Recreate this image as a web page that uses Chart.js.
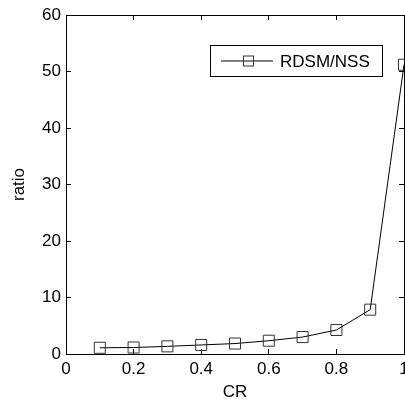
<!DOCTYPE html>
<html><head><meta charset="utf-8">
<script src="https://cdn.jsdelivr.net/npm/chart.js@4"></script>
<style>html,body{margin:0;padding:0;background:#fff}canvas{display:block}</style>
</head><body>
<canvas id="c" width="405" height="401"></canvas>
<script>
const crValues = [0.1, 0.2, 0.3, 0.4, 0.5, 0.6, 0.7, 0.8, 0.9, 1.0];
const ratioValues = [1.1, 1.15, 1.35, 1.6, 1.85, 2.35, 3.0, 4.25, 7.85, 51.2];
const seriesLabel = 'RDSM/NSS';
const xTitle = 'CR';
const yTitle = 'ratio';

const FONT = {family: 'Liberation Sans, Arial, sans-serif', size: 17};
const fmt = v => String(+Number(v).toFixed(2));

const legendPlugin = {
  id: 'boxLegend',
  afterDatasetsDraw(chart) {
    const ctx = chart.ctx, a = chart.chartArea;
    const ds = chart.data.datasets[0];
    const x0 = a.left + 144, y0 = a.top + 30, w = 172, h = 31;
    ctx.save();
    ctx.fillStyle = '#fff';
    ctx.fillRect(x0, y0, w, h);
    ctx.strokeStyle = '#000';
    ctx.lineWidth = 1;
    ctx.strokeRect(x0 + 0.5, y0 + 0.5, w, h);
    const cy = y0 + h / 2 + 0.5;
    ctx.beginPath();
    ctx.moveTo(x0 + 11, cy); ctx.lineTo(x0 + 63, cy);
    ctx.strokeStyle = '#000';
    ctx.stroke();
    ctx.strokeStyle = '#333';
    ctx.strokeRect(x0 + 33.5, cy - 5, 10, 10);
    ctx.fillStyle = '#000';
    ctx.font = FONT.size + 'px ' + FONT.family;
    ctx.textBaseline = 'middle';
    ctx.textAlign = 'left';
    ctx.fillText(ds.label, x0 + 70, cy + 1);
    ctx.restore();
  }
};

new Chart(document.getElementById('c'), {
  type: 'line',
  data: {
    datasets: [{
      label: seriesLabel,
      data: crValues.map((x, i) => ({x: x, y: ratioValues[i]})),
      borderColor: '#000',
      borderWidth: 1,
      pointStyle: 'rect',
      pointRadius: 7.8,
      pointHoverRadius: 7.8,
      pointBorderColor: '#333',
      pointBorderWidth: 1,
      pointBackgroundColor: 'rgba(0,0,0,0)',
      tension: 0,
      clip: 0
    }]
  },
  options: {
    responsive: false,
    animation: false,
    events: [],
    layout: {padding: 0, autoPadding: false},
    plugins: {legend: {display: false}, tooltip: {enabled: false}},
    scales: {
      x: {
        type: 'linear', position: 'bottom', min: 0, max: 1,
        ticks: {stepSize: 0.2, color: '#000', font: FONT, padding: 10, maxRotation: 0, callback: fmt},
        grid: {drawOnChartArea: false, tickLength: -5, tickColor: '#000'},
        border: {color: '#000', width: 1},
        title: {display: true, text: xTitle, color: '#000', font: FONT, padding: {top: 0, bottom: -2}},
        afterFit(s) { s.height = 47; s.paddingLeft = 0; s.paddingRight = 0; }
      },
      x2: {
        type: 'linear', position: 'top', min: 0, max: 1,
        ticks: {stepSize: 0.2, display: false},
        grid: {drawOnChartArea: false, tickLength: -5, tickColor: '#000'},
        border: {color: '#000', width: 1},
        afterFit(s) { s.height = 15; s.paddingLeft = 0; s.paddingRight = 0; }
      },
      y: {
        type: 'linear', position: 'left', min: 0, max: 60,
        ticks: {stepSize: 10, color: '#000', font: FONT, padding: 10},
        grid: {drawOnChartArea: false, tickLength: -5, tickColor: '#000'},
        border: {color: '#000', width: 1},
        title: {display: true, text: yTitle, color: '#000', font: FONT, padding: {top: 9, bottom: 0}},
        afterFit(s) { s.width = 66; s.paddingTop = 0; s.paddingBottom = 0; }
      },
      y2: {
        type: 'linear', position: 'right', min: 0, max: 60,
        ticks: {stepSize: 10, display: false},
        grid: {drawOnChartArea: false, tickLength: -5, tickColor: '#000'},
        border: {color: '#000', width: 1},
        afterFit(s) { s.width = 1; s.paddingTop = 0; s.paddingBottom = 0; }
      }
    }
  },
  plugins: [legendPlugin]
});
</script>
</body></html>
